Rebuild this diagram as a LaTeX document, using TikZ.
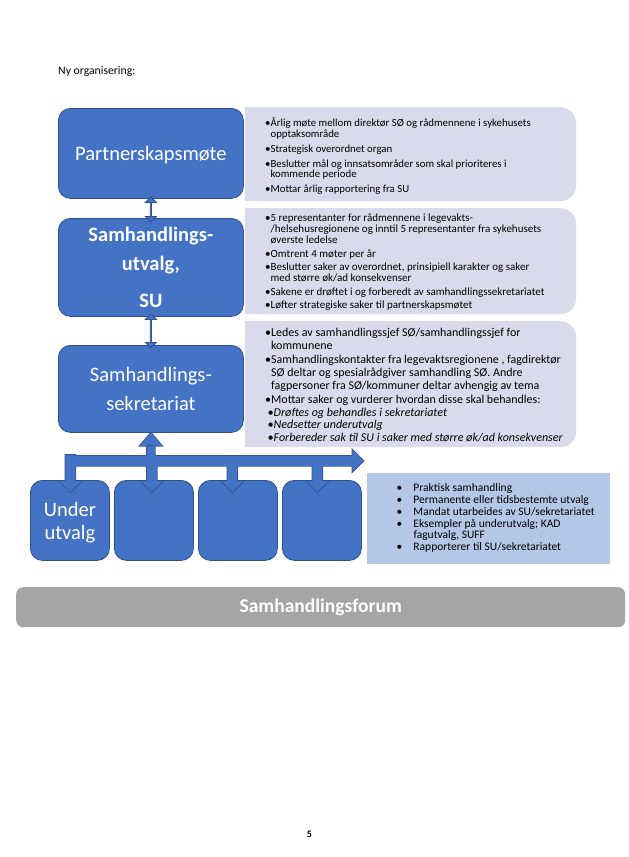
\documentclass[tikz,border=0pt]{standalone}
\usepackage{fontspec}
\setmainfont{Carlito}
\usetikzlibrary{calc,shapes.arrows}
\definecolor{bfill}{RGB}{68,114,196}
\definecolor{bline}{RGB}{47,82,143}
\definecolor{lav}{RGB}{217,219,236}
\definecolor{lblue}{RGB}{180,199,231}
\definecolor{gbar}{RGB}{165,165,165}
\newcommand\hb{\hphantom{•}}
\newcommand\fr[1]{\rule{0pt}{#1}}
\newcommand\dnarrow[3]{%
  ($(#1.north)+(#2-5,#3)$) rectangle ($(#1.north)+(#2+5,2)$)
  ($(#1.north)+(#2-11,1)$) -- ($(#1.north)+(#2,12)$) -- ($(#1.north)+(#2+11,1)$) -- cycle}
\newcommand\botpath{%
  ($(hub)+(-85.5,-5)$) rectangle ($(hub)+(201.5,5)$)
  ($(hub)+(201.5,-11)$) -- ($(hub)+(212.5,0)$) -- ($(hub)+(201.5,11)$) -- cycle
  ($(sek.south)+(-4,12)$) rectangle ($(sek.south)+(4,24)$)
  ($(sek.south)+(-11,13)$) -- (sek.south) -- ($(sek.south)+(11,13)$) -- cycle
  \dnarrow{u1}{0.5}{-25}
  \dnarrow{u2}{-2}{-16}
  \dnarrow{u3}{-5.5}{-16}
  \dnarrow{u4}{-4.5}{-16}}
\begin{document}
\begin{tikzpicture}[x=1pt,y=-1pt,
  bluebox/.style={draw=bline, fill=bfill, line width=0.8pt, rounded corners=12pt, inner sep=0pt, anchor=north west},
  bigtxt/.style={text=white, inner sep=0pt, align=center, font=\fontsize{20.5}{29}\selectfont},
  infobox/.style={fill=lav, rounded corners=16pt, inner sep=0pt, anchor=north west},
  infotxt/.style={inner sep=0pt, align=left, anchor=north west, text=black},
  dblarrow/.style={double arrow, draw=bline, fill=bfill, line width=0.8pt, rotate=90, inner sep=0pt,
    minimum width=11pt, double arrow head extend=3pt}]
\fill[white] (0,0) rectangle (629,857);
\useasboundingbox (0,0) rectangle (629,857);

\node[anchor=base west, inner sep=0pt, font=\fontsize{11.7}{11.7}\selectfont] (title) at (58,74.5) {Ny organisering:};

% info boxes
\node[infobox, minimum width=331pt, minimum height=94pt] (i1) at (245,107) {};
\fill[lav] (i1.north west) rectangle ($(i1.south west)+(20,0)$);
\node[infobox, minimum width=331pt, minimum height=106pt] (i2) at (245,208) {};
\fill[lav] (i2.north west) rectangle ($(i2.south west)+(20,0)$);
\node[infobox, minimum width=331pt, minimum height=126pt] (i3) at (245,321) {};
\fill[lav] (i3.north west) rectangle ($(i3.south west)+(20,0)$);

\node[infotxt, font={\fontsize{10.8}{10.4}\selectfont\lineskiplimit=-20pt}] (t1) at ($(i1.north west)+(20,7.5)$)
{\fr{12pt}•Årlig møte mellom direktør SØ og rådmennene i sykehusets\\
\hb opptaksområde\\[4.7pt]
•Strategisk overordnet organ\\[4.7pt]
•Beslutter mål og innsatsområder som skal prioriteres i\\
\hb kommende periode\\[4.7pt]
•Mottar årlig rapportering fra SU};

\node[infotxt, font={\fontsize{11}{11.3}\selectfont\lineskiplimit=-20pt}] (t2) at ($(i2.north west)+(20,1)$)
{\fr{12pt}•5 representanter for rådmennene i legevakts-\\
\hb/helsehusregionene og inntil 5 representanter fra sykehusets\\
\hb øverste ledelse\\[2.05pt]
•Omtrent 4 møter per år\\[2.05pt]
•Beslutter saker av overordnet, prinsipiell karakter og saker\\
\hb med større øk/ad konsekvenser\\[2.05pt]
•Sakene er drøftet i og forberedt av samhandlingssekretariatet\\[2.05pt]
•Løfter strategiske saker til partnerskapsmøtet};

\node[infotxt, font={\fontsize{12}{12.7}\selectfont\lineskiplimit=-20pt}] (t3) at ($(i3.north west)+(20,3.6)$)
{\fr{12pt}•Ledes av samhandlingssjef SØ/samhandlingssjef for\\
\hb kommunene\\[1.5pt]
•Samhandlingskontakter fra legevaktsregionene , fagdirektør\\
\hb SØ deltar og spesialrådgiver samhandling SØ. Andre\\
\hb fagpersoner fra SØ/kommuner deltar avhengig av tema\\[1.5pt]
•Mottar saker og vurderer hvordan disse skal behandles:\\
\hspace*{2.5pt}\textit{•Drøftes og behandles i sekretariatet}\\
\hspace*{2.5pt}\textit{•Nedsetter underutvalg}\\
\hspace*{2.5pt}\textit{•Forbereder sak til SU i saker med større øk/ad konsekvenser}};

% main blue boxes
\node[bluebox, minimum width=185pt, minimum height=90pt] (pm) at (58,108) {};
\node[bluebox, minimum width=185pt, minimum height=98pt] (su) at (58,218) {};
\node[bluebox, minimum width=185pt, minimum height=87pt] (sek) at (58,345) {};
\node[bigtxt, anchor=base] (pmt) at ($(pm.north)+(0,52)$) {Partnerskapsmøte};
\node[bigtxt, anchor=north, font=\bfseries\fontsize{20.5}{29}\selectfont] (sut) at ($(su.north)+(0,3.7)$)
  {\fr{20pt}Samhandlings-\\utvalg,\\[7.6pt]SU};
\node[bigtxt, anchor=north] (sekt) at ($(sek.north)+(0,16)$) {\fr{20pt}Samhandlings-\\sekretariat};

\node[dblarrow, minimum height=25pt] (da1) at ($(pm.south)!0.5!(su.north)+(0,1)$) {};
\node[dblarrow, minimum height=34pt] (da2) at ($(su.south)!0.5!(sek.north)$) {};

% lower boxes
\node[bluebox, minimum width=79pt, minimum height=80pt] (u1) at (30,480) {};
\node[bluebox, minimum width=79pt, minimum height=80pt] (u2) at (114,480) {};
\node[bluebox, minimum width=79pt, minimum height=80pt] (u3) at (198,480) {};
\node[bluebox, minimum width=79pt, minimum height=80pt] (u4) at (282,480) {};
\node[bigtxt, anchor=north, font=\fontsize{20.5}{22.6}\selectfont] (u1t) at ($(u1.north)+(0,16.7)$) {\fr{20pt}Under\\utvalg};

\coordinate (hub) at ($(sek.south)+(0,28)$);
\draw[bline, line width=1.6pt, line join=miter] \botpath;
\fill[bfill] \botpath;

% bottom right info
\node[fill=lblue, inner sep=0pt, anchor=north west, minimum width=243pt, minimum height=91pt] (i4) at (367,473) {};
\node[infotxt, font={\fontsize{11.5}{11.7}\selectfont\lineskiplimit=-20pt}] (t4) at ($(i4.north west)+(29.5,6.7)$)
{\fr{12pt}\makebox[16.8pt][l]{•}Praktisk samhandling\\
\makebox[16.8pt][l]{•}Permanente eller tidsbestemte utvalg\\
\makebox[16.8pt][l]{•}Mandat utarbeides av SU/sekretariatet\\
\makebox[16.8pt][l]{•}Eksempler på underutvalg; KAD\\
\hspace*{16.8pt}fagutvalg, SUFF\\
\makebox[16.8pt][l]{•}Rapporterer til SU/sekretariatet};

% forum bar
\node[fill=gbar, rounded corners=7pt, inner sep=0pt, anchor=north west, minimum width=609pt, minimum height=40pt] (forum) at (16,587) {};
\node[anchor=base, inner sep=0pt, text=white, font=\bfseries\fontsize{19.5}{19.5}\selectfont] (forumt) at ($(forum.north)+(0,25.5)$) {Samhandlingsforum};

\node[anchor=base, inner sep=0pt, font=\bfseries\fontsize{10}{10}\selectfont] (pg) at (309.5,837) {5};
\end{tikzpicture}
\end{document}
